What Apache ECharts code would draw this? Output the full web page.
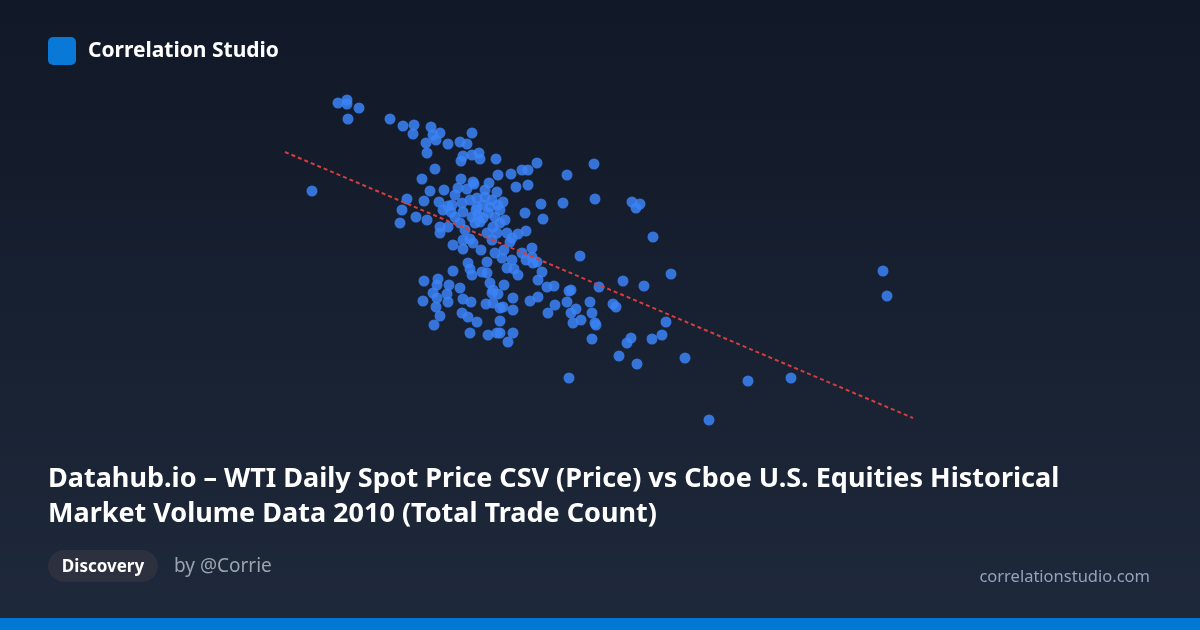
<!DOCTYPE html>
<html>
<head>
<meta charset="utf-8">
<script src="https://cdn.jsdelivr.net/npm/echarts@6/dist/echarts.min.js"></script>
<style>
html,body{margin:0;padding:0;background:#111827;}
#chart{width:1200px;height:630px;}
</style>
</head>
<body>
<div id="chart"></div>
<script>
// WTI daily spot price (USD/bbl)
const price = [
64.9,65.35,65.35,65.95,65.4,63.6,67.5,68.15,68.7,68.65,
69.55,69.65,70.0,69.3,69.8,70.4,69.35,71.0,71.35,71.6,
71.15,71.6,71.95,71.05,72.0,72.8,73.55,74.1,74.4,74.85,
69.75,69.1,71.05,71.65,71.7,72.45,72.9,70.9,71.35,69.5,
72.85,73.8,74.4,68.35,69.2,69.95,70.4,71.1,71.85,72.25,
72.6,73.15,72.9,72.15,75.05,74.25,75.15,68.1,68.8,69.35,
70.55,70.75,71.15,71.6,71.8,72.4,72.75,73.25,71.0,71.75,
70.0,70.4,72.65,73.0,71.85,72.5,73.0,70.15,72.15,68.0,
70.0,72.0,72.35,72.85,73.35,73.9,74.3,70.65,71.15,71.5,
71.65,71.15,72.05,72.75,73.2,73.5,73.6,73.1,73.6,74.1,
74.6,74.6,74.65,74.3,74.85,71.4,72.35,70.65,71.5,71.6,
72.1,72.35,73.35,73.7,73.9,75.1,74.9,69.2,69.9,69.85,
70.45,71.0,72.5,73.2,75.35,75.7,69.65,70.35,72.65,72.9,
72.6,69.15,69.85,70.4,71.15,71.55,72.3,72.65,73.65,74.5,
74.9,75.75,69.8,73.0,73.15,73.65,75.4,70.0,71.1,71.4,
71.85,73.0,69.7,71.5,72.4,72.85,73.0,73.65,73.4,77.7,
76.35,76.15,77.75,79.6,80.0,79.8,80.65,77.0,76.35,76.55,
76.45,77.5,77.95,79.15,80.2,81.55,78.65,78.8,76.55,76.8,
77.6,76.65,77.05,77.75,77.8,81.3,81.1,80.6,79.55,79.35,
77.6,78.95,79.85,82.25,76.45,92.15,92.35,85.4,87.55,83.45,
70.75,71.5,72.25,71.9,71.25,72.6,70.6,70.2
];
// Cboe U.S. equities total trade count (millions)
const tradeCount = [
26.35,26.5,26.3,26.1,25.55,21.95,25.55,25.2,25.25,24.8,
25.15,24.75,24.85,24.35,24.5,24.3,23.85,24.4,24.3,24.85,
23.7,23.75,23.85,23.45,23.55,23.55,22.8,23.0,23.0,23.35,
23.05,22.55,22.55,22.4,22.3,22.35,22.75,22.1,22.05,21.95,
21.9,22.15,22.25,21.55,21.45,21.4,21.2,21.35,21.6,21.65,
21.5,21.4,21.25,21.25,21.3,20.85,20.55,21.0,20.65,20.5,
20.9,20.65,20.9,20.65,21.0,20.85,20.65,20.5,20.35,20.35,
20.15,20.15,20.15,20.35,21.15,21.15,21.0,21.0,20.6,20.35,
19.85,20.4,19.85,19.85,19.85,19.8,19.95,19.25,19.5,19.55,
19.35,19.05,19.0,18.85,19.0,19.4,19.6,18.6,18.5,18.85,
19.1,18.65,18.35,18.5,18.4,18.35,18.4,17.95,18.05,17.75,
17.9,17.85,18.1,18.05,17.75,17.9,17.5,17.45,17.55,17.25,
17.25,17.1,17.35,17.25,17.15,17.2,16.85,16.8,17.0,16.8,
16.85,16.45,16.6,16.4,16.55,16.4,16.3,16.35,16.6,16.45,
16.65,16.25,16.15,16.1,16.15,16.0,15.85,15.7,15.85,15.65,
15.4,15.45,15.25,14.85,14.75,14.85,14.85,14.85,14.4,23.3,
22.75,21.35,21.55,21.4,21.3,21.1,19.65,18.7,16.4,17.0,
16.95,16.4,17.15,17.45,17.2,17.8,16.3,16.15,15.85,16.05,
15.85,15.35,15.5,15.35,15.25,15.4,14.75,14.55,14.6,14.35,
14.55,13.7,13.3,13.6,12.6,17.95,16.7,12.45,12.6,10.5,
21.75,21.5,22.0,20.75,20.0,19.5,21.25,22.0
];
// Trend line endpoints
const trendPrice = [62.25, 93.65];
const trendCount = [23.9, 10.6];

const points = price.map((p, i) => [p, tradeCount[i]]);
const trend = trendPrice.map((p, i) => [p, trendCount[i]]);

const chart = echarts.init(document.getElementById('chart'), null, {renderer: 'canvas', width: 1200, height: 630});
const font = '"Noto Sans", "Open Sans", sans-serif';
chart.setOption({
  animation: false,
  backgroundColor: new echarts.graphic.LinearGradient(0, 0, 0, 1, [
    {offset: 0, color: '#111827'},
    {offset: 1, color: '#1e293b'}
  ]),
  grid: {left: 280, right: 280, top: 90, bottom: 200},
  xAxis: {type: 'value', min: 62, max: 94, show: false},
  yAxis: {type: 'value', min: 10, max: 27, show: false},
  series: [
    {
      type: 'scatter',
      data: points,
      symbolSize: 11,
      itemStyle: {color: '#3b82f6', opacity: 0.85},
      z: 2
    },
    {
      type: 'line',
      data: trend,
      symbol: 'none',
      lineStyle: {color: '#d63d3d', width: 2, type: [4, 3]},
      z: 3
    }
  ],
  graphic: [
    {type: 'rect', left: 48, top: 37, shape: {width: 28, height: 28, r: 5}, style: {fill: '#0a78d6'}},
    {type: 'text', x: 88, y: 51, style: {text: 'Correlation Studio', fill: '#ffffff', font: 'bold 21px ' + font, textVerticalAlign: 'middle'}},
    {type: 'text', x: 48, y: 479, style: {text: 'Datahub.io – WTI Daily Spot Price CSV (Price) vs Cboe U.S. Equities Historical', fill: '#ffffff', font: 'bold 27px ' + font, textVerticalAlign: 'middle'}},
    {type: 'text', x: 48, y: 514, style: {text: 'Market Volume Data 2010 (Total Trade Count)', fill: '#ffffff', font: 'bold 27px ' + font, textVerticalAlign: 'middle'}},
    {type: 'rect', left: 48, top: 550, shape: {width: 110, height: 32, r: 16}, style: {fill: '#2d303f'}},
    {type: 'text', x: 103, y: 567, style: {text: 'Discovery', fill: '#ffffff', font: 'bold 17px ' + font, textAlign: 'center', textVerticalAlign: 'middle'}},
    {type: 'text', x: 174, y: 567, style: {text: 'by @Corrie', fill: '#9ca3af', font: '19px ' + font, textVerticalAlign: 'middle'}},
    {type: 'text', x: 1150, y: 577, style: {text: 'correlationstudio.com', fill: '#94a3b8', font: '16.5px ' + font, textAlign: 'right', textVerticalAlign: 'middle'}},
    {type: 'rect', left: 0, top: 618, shape: {width: 1200, height: 12}, style: {fill: '#0078d4'}}
  ]
});
</script>
</body>
</html>
